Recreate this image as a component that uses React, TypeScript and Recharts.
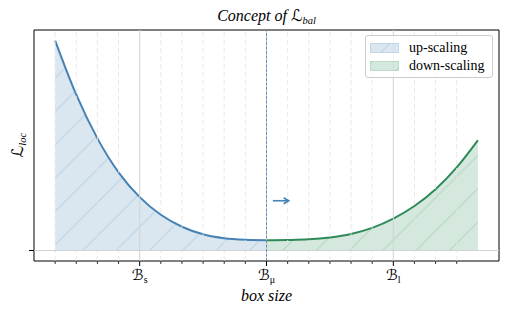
import React from 'react';
import { ComposedChart, Area, XAxis, YAxis, ReferenceLine, ReferenceArea } from 'recharts';

// ---- data ----
const boxSizeSteps = [0, 1, 2, 3, 4, 5, 6, 7, 8, 9, 10, 11, 12, 13, 14, 15, 16, 17, 18, 19, 20];
const upScaling = [1.0, 0.742, 0.534, 0.372, 0.254, 0.17, 0.113, 0.077, 0.058, 0.051, 0.049,
  null, null, null, null, null, null, null, null, null, null];
const downScaling = [null, null, null, null, null, null, null, null, null, null,
  0.049, 0.05, 0.053, 0.062, 0.079, 0.108, 0.152, 0.212, 0.292, 0.396, 0.525];
const minorTicks = [0, 1, 2, 3, 4, 5, 6, 7, 8, 9, 10, 11, 12, 13, 14, 15, 16, 17, 18, 19];
const majorTicks = [4, 10, 16];
const majorTickSubscripts = ['s', 'μ', 'l'];
const yTicks = [0];
const balancePoint = 10;
const arrowFrom = { x: 10.3, y: 0.237 };
const arrowTo = { x: 11.05, y: 0.237 };
const legendLabels = ['up-scaling', 'down-scaling'];

const data = boxSizeSteps.map((k, i) => ({ k, up: upScaling[i], down: downScaling[i] }));

const BLUE = '#4682b4';
const GREEN = '#2e8b57';
const SERIF = '"Liberation Serif", "DejaVu Serif", "DejaVu Sans", serif';
const HATCH = 33.33;

const XTick = (props: any) => {
  const { x, y, payload } = props;
  const idx = majorTicks.indexOf(payload.value);
  const major = idx >= 0;
  return (
    <g>
      <line x1={x} x2={x} y1={y} y2={y + (major ? 5 : 3)} stroke="#000" strokeWidth={major ? 1 : 0.8} />
      {major && (
        <text x={x} y={y + 19} textAnchor="middle" fontFamily={SERIF} fontSize={15} fill="#000">
          ℬ<tspan fontSize={10} dy={3}>{majorTickSubscripts[idx]}</tspan>
        </text>
      )}
    </g>
  );
};

const ArrowShape = (props: any) => {
  const { x1, y1, x2, y2 } = props;
  return (
    <g>
      <line x1={x1} y1={y1} x2={x2} y2={y2} stroke={BLUE} strokeWidth={1.6} />
      <path d={`M${x2 - 5},${y2 - 3} L${x2},${y2} L${x2 - 5},${y2 + 3}`} fill="none" stroke={BLUE} strokeWidth={1.6} />
    </g>
  );
};

const hatchPath = `M0,${HATCH} L${HATCH},0 M${-HATCH / 2},${HATCH / 2} L${HATCH / 2},${-HATCH / 2} M${HATCH / 2},${HATCH * 1.5} L${HATCH * 1.5},${HATCH / 2}`;

const HatchPattern = ({ id, color, dx = 0, dy = 0 }: { id: string; color: string; dx?: number; dy?: number }) => (
  <pattern id={id} patternUnits="userSpaceOnUse" width={HATCH} height={HATCH} patternTransform={`translate(${dx},${dy})`}>
    <rect x={0} y={0} width={HATCH} height={HATCH} fill={color} fillOpacity={0.2} />
    <path d={hatchPath} stroke={color} strokeOpacity={0.22} strokeWidth={1} />
  </pattern>
);

const LegendBox = () => (
  <div style={{
    position: 'absolute', left: 365, top: 35, width: 126, height: 41, border: '1px solid #cccccc',
    borderRadius: 3, background: 'rgba(255,255,255,0.8)',
  }}>
    <svg width={126} height={41} style={{ display: 'block' }}>
      <defs>
        <HatchPattern id="legUp" color={BLUE} dx={-366} dy={-36} />
        <HatchPattern id="legDown" color={GREEN} dx={-366} dy={-36} />
      </defs>
      <rect x={4.5} y={7.5} width={28} height={9} fill="url(#legUp)" stroke={BLUE} strokeOpacity={0.25} />
      <text x={43} y={16} fontFamily={SERIF} fontSize={14} fill="#000">{legendLabels[0]}</text>
      <rect x={4.5} y={25.5} width={28} height={9} fill="url(#legDown)" stroke={GREEN} strokeOpacity={0.25} />
      <text x={43} y={34} fontFamily={SERIF} fontSize={14} fill="#000">{legendLabels[1]}</text>
    </svg>
  </div>
);

export default function App() {
  return (
    <div style={{ position: 'absolute', left: 0, top: 0, width: 508, height: 314, background: '#fff' }}>
      <ComposedChart width={508} height={314} data={data} margin={{ top: 30, right: 9, bottom: 0, left: 24 }}>
        <defs>
          <HatchPattern id="hatchUp" color={BLUE} />
          <HatchPattern id="hatchDown" color={GREEN} />
        </defs>
        <XAxis dataKey="k" type="number" domain={[-1, 21]} ticks={minorTicks} interval={0}
          tickSize={0} tickMargin={0} tick={(p: any) => <XTick {...p} />} axisLine={false} tickLine={false}
          height={53} allowDataOverflow />
        <YAxis type="number" domain={[-0.05, 1.05]} ticks={yTicks} tickFormatter={() => ''}
          tickSize={5} width={10} axisLine={false} tickLine={{ stroke: '#000', strokeWidth: 1 }} allowDataOverflow />
        {minorTicks.filter((t) => !majorTicks.includes(t)).map((t) => (
          <ReferenceLine key={'m' + t} x={t} stroke="#e3e3e3" strokeWidth={0.8} strokeDasharray="5 3" />
        ))}
        {majorTicks.map((t) => (
          <ReferenceLine key={'M' + t} x={t} stroke="#d2d2d2" strokeWidth={1} />
        ))}
        {yTicks.map((t) => (
          <ReferenceLine key={'y' + t} y={t} stroke="#d2d2d2" strokeWidth={1} />
        ))}
        <Area dataKey="up" type="monotone" stroke={BLUE} strokeWidth={2} fill="url(#hatchUp)" fillOpacity={1}
          baseValue={0} isAnimationActive={false} dot={false} activeDot={false} name={legendLabels[0]} />
        <Area dataKey="down" type="monotone" stroke={GREEN} strokeWidth={2} fill="url(#hatchDown)" fillOpacity={1}
          baseValue={0} isAnimationActive={false} dot={false} activeDot={false} name={legendLabels[1]} />
        <ReferenceLine x={balancePoint} stroke={BLUE} strokeWidth={0.8} strokeDasharray="3 1.5" />
        <ReferenceLine segment={[arrowFrom, arrowTo]} shape={(p: any) => <ArrowShape {...p} />} />
        <ReferenceArea x1={-1} x2={21} y1={-0.05} y2={1.05} fill="none" stroke="#000" strokeWidth={1} />

        {/* title */}
        <text x={266.5} y={21} textAnchor="middle" fontFamily={SERIF} fontStyle="italic" fontSize={16} fill="#000">
          Concept of <tspan fontStyle="normal">ℒ</tspan><tspan fontSize={10.5} dy={3}>bal</tspan>
        </text>
        {/* x label */}
        <text x={266.5} y={301} textAnchor="middle" fontFamily={SERIF} fontStyle="italic" fontSize={16} fill="#000">
          box size
        </text>
        {/* y label */}
        <text x={23} y={145} textAnchor="middle" transform="rotate(-90, 23, 145)" fontFamily={SERIF} fontSize={16} fill="#000">
          ℒ<tspan fontSize={10.5} fontStyle="italic" dy={3}>loc</tspan>
        </text>
      </ComposedChart>
      <LegendBox />
    </div>
  );
}
